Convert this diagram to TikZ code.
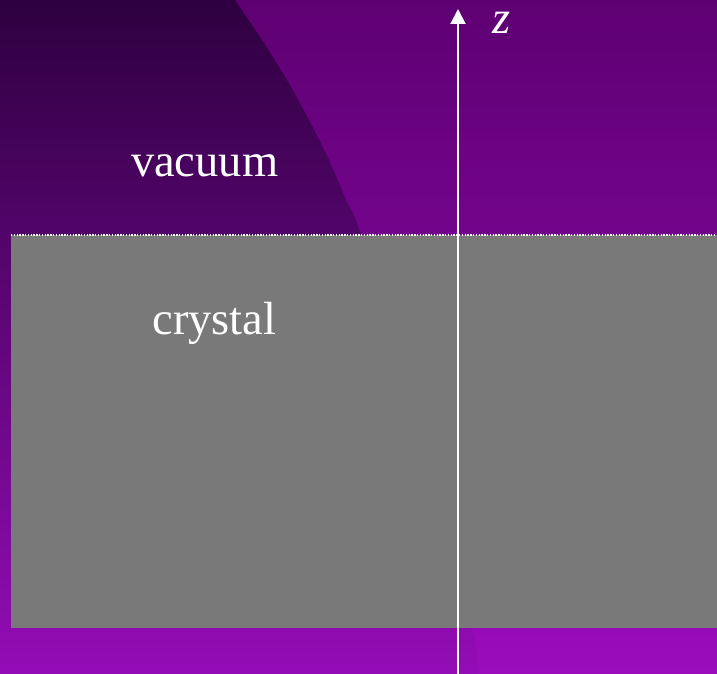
\documentclass[tikz,border=0pt]{standalone}
\usepackage{fontspec}
\setmainfont{Liberation Serif}
\usetikzlibrary{arrows.meta}
\definecolor{lighttop}{RGB}{94,0,114}
\definecolor{lightbot}{RGB}{154,12,188}
\definecolor{darktop}{RGB}{46,0,64}
\definecolor{darkbot}{RGB}{148,12,182}
\definecolor{crystalgray}{RGB}{121,121,121}
\begin{document}
\begin{tikzpicture}[x=1pt,y=1pt,
  lbl/.style={text=white,inner sep=0pt,outer sep=0pt,font=\fontsize{46.5}{50}\selectfont},
  axisline/.style={white,line width=2pt,-{Triangle[length=15pt,width=15pt]}},
  surface/.style={white,line width=1.1pt,dash pattern=on 1.4pt off 1.4pt}]
\useasboundingbox (0,0) rectangle (717,674);
% background
\shade[top color=lighttop,bottom color=lightbot] (0,0) rectangle (717,674);
\shade[top color=darktop,bottom color=darkbot]
  (0,674) -- (235,674)
  -- plot[smooth] coordinates {(235,674) (262,634) (287,594) (309,554) (329,514) (346,474) (361,439) (421,244) (472,46) (478,0)}
  -- (0,0) -- cycle;
% crystal
\fill[crystalgray] (11,46) rectangle (717,439);
\coordinate (sl) at (11,439);
\coordinate (sr) at (717,439);
\draw[surface] (sl) -- (sr);
% axis
\coordinate (axisbottom) at (458,0);
\coordinate (axistop) at (458,665);
\draw[axisline] (axisbottom) -- (axistop);
% labels
\node[lbl,anchor=base west] (vacuum) at (131,497.3) {vacuum};
\node[lbl,anchor=base west] (crystal) at (152.5,339) {crystal};
\node[lbl,anchor=base west] (z) at (492,640.7) {\itshape z};
\end{tikzpicture}
\end{document}
